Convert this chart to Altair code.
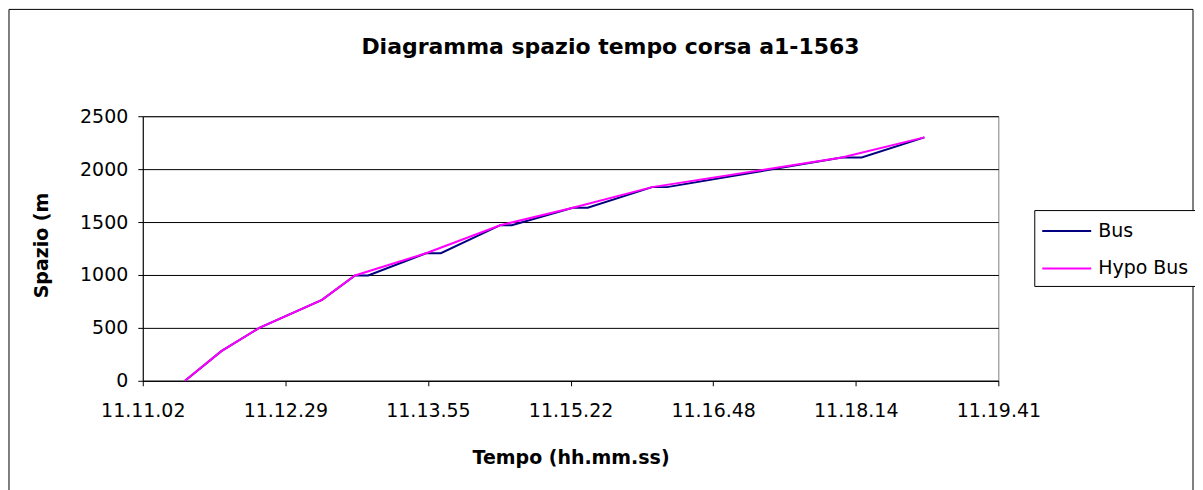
import altair as alt
import pandas as pd

# ---- text ----
title_text = "Diagramma spazio tempo corsa a1-1563"
x_title = "Tempo (hh.mm.ss)"
y_title = "Spazio (m"

# ---- data (time as hh.mm.ss, space in metres) ----
bus_time = ["11.11.28", "11.11.50", "11.12.13", "11.12.51", "11.13.11", "11.13.19",
            "11.13.54", "11.14.03", "11.14.39", "11.14.46", "11.15.23", "11.15.32",
            "11.16.11", "11.16.20", "11.18.06", "11.18.18", "11.18.56"]
bus_space = [0, 280, 500, 765, 995, 995, 1205, 1205, 1470, 1470, 1635, 1635,
             1830, 1830, 2110, 2110, 2300]

hypo_time = ["11.11.28", "11.11.50", "11.12.13", "11.12.51", "11.13.11", "11.13.54",
             "11.14.39", "11.15.23", "11.16.11", "11.18.06", "11.18.56"]
hypo_space = [0, 280, 500, 765, 995, 1205, 1470, 1635, 1830, 2110, 2300]

series_names = ["Bus", "Hypo Bus"]
series_colors = ["#000080", "#FF00FF"]

# axis ticks (x ticks are Excel fractions of a day)
x_tick_days = [0.466, 0.467, 0.468, 0.469, 0.470, 0.471, 0.472]
y_ticks = [0, 500, 1000, 1500, 2000, 2500]


def to_sec(t):
    h, m, s = (int(v) for v in t.split("."))
    return h * 3600 + m * 60 + s


rows = []
for i, (t, d) in enumerate(zip(bus_time, bus_space)):
    rows.append({"serie": "Bus", "sec": to_sec(t), "spazio": d, "ord": i})
for i, (t, d) in enumerate(zip(hypo_time, hypo_space)):
    rows.append({"serie": "Hypo Bus", "sec": to_sec(t), "spazio": d, "ord": i})
df = pd.DataFrame(rows)

x_ticks = [d * 86400 for d in x_tick_days]
FONT = "DejaVu Sans"

lines = alt.Chart(df).mark_line(strokeWidth=2).encode(
    x=alt.X(
        "sec:Q",
        scale=alt.Scale(domain=[x_ticks[0], x_ticks[-1]], nice=False, zero=False),
        axis=alt.Axis(
            values=x_ticks,
            labelExpr="utcFormat(round(datum.value) * 1000, '%H.%M.%S')",
            title=x_title,
            grid=False,
            tickSize=5,
            labelPadding=25,
            labelBaseline="middle",
            labelFlush=False,
            labelOverlap=False,
            titleX=428.5,
            titleY=77,
            titleBaseline="middle",
            titleAlign="center",
        ),
    ),
    y=alt.Y(
        "spazio:Q",
        scale=alt.Scale(domain=[0, 2500], nice=False),
        axis=alt.Axis(
            values=y_ticks,
            format="d",
            title=y_title,
            grid=True,
            gridColor="#000000",
            gridWidth=1,
            tickSize=5,
            labelPadding=10,
            labelBaseline="middle",
            labelFlush=False,
            titleAngle=270,
            titleX=-101,
            titleY=129,
            titleBaseline="middle",
            titleAlign="center",
        ),
    ),
    color=alt.Color(
        "serie:N",
        scale=alt.Scale(domain=series_names, range=series_colors),
        legend=alt.Legend(
            title=None,
            orient="none",
            legendX=893,
            legendY=94,
            symbolType="M-1,0H2.77",
            symbolSize=676,
            symbolStrokeWidth=2,
            labelFont=FONT,
            labelFontSize=19,
            labelColor="#000000",
            labelOffset=29,
            padding=7,
            rowPadding=13.5,
            strokeColor="#000000",
            fillColor="#FFFFFF",
        ),
    ),
    order="ord:Q",
)

frame = alt.Chart(alt.Data(values=[{}])).mark_rect(
    fillOpacity=0, stroke="#000000", strokeWidth=1
).encode(
    x=alt.value(-134), x2=alt.value(1052), y=alt.value(-107), y2=alt.value(420)
)

chart = alt.layer(frame, lines).properties(
    width=857,
    height=265,
    padding={"left": 135, "top": 108, "right": 197, "bottom": 110},
    autosize=alt.AutoSizeParams(type="none"),
    title=alt.TitleParams(
        title_text,
        font=FONT,
        fontSize=22,
        fontWeight="bold",
        color="#000000",
        anchor="middle",
        frame="group",
        dx=40,
        dy=67,
        offset=0,
        baseline="alphabetic",
    ),
).configure(
    background="#FFFFFF"
).configure_view(
    stroke="#808080", strokeWidth=1
).configure_axis(
    labelFont=FONT,
    labelFontSize=19,
    labelColor="#000000",
    titleFont=FONT,
    titleFontSize=19,
    titleFontWeight="bold",
    titleColor="#000000",
    domainColor="#000000",
    tickColor="#000000",
)

chart.save("out.html", embed_options={"renderer": "svg", "actions": False})
